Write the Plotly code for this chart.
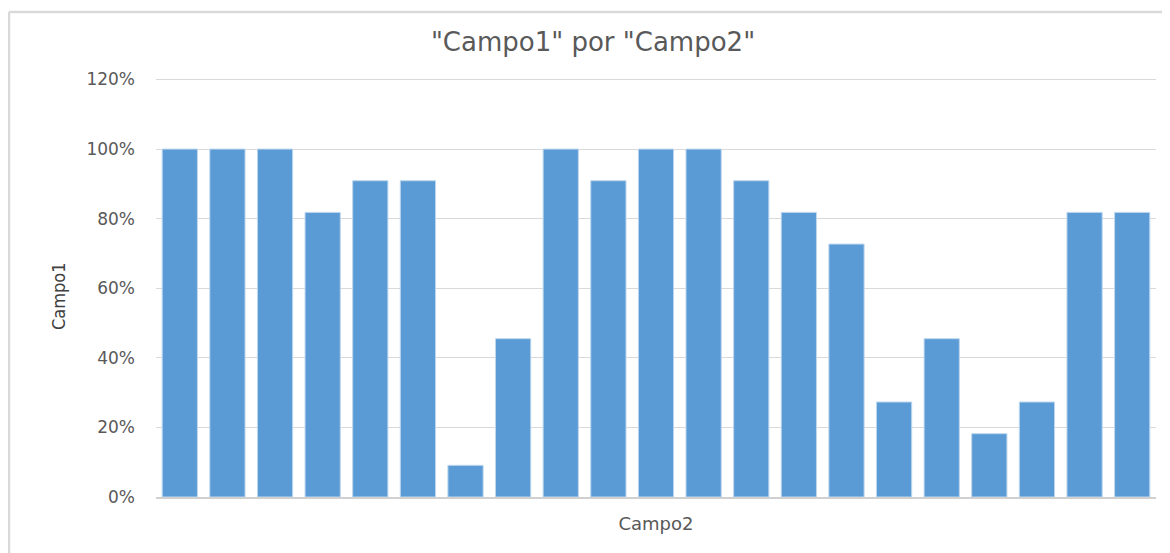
import plotly.graph_objects as go

categories = [str(i) for i in range(1, 22)]
values = [1.0, 1.0, 1.0, 0.818, 0.909, 0.909, 0.091, 0.455, 1.0, 0.909, 1.0,
          1.0, 0.909, 0.818, 0.727, 0.273, 0.455, 0.182, 0.273, 0.818, 0.818]
y_ticks = [0, 0.2, 0.4, 0.6, 0.8, 1.0, 1.2]

# page body has an 8px margin; margins below compensate for it
L, R, T, B = 148, 22, 68, 64
W, H = 1170, 553
plot_w = W - L - R
plot_h = H - T - B

fig = go.Figure(go.Bar(
    x=categories, y=values,
    marker=dict(color="#5B9BD5", line=dict(color="#BDD7EE", width=1)),
))

fig.update_layout(
    width=W, height=H,
    margin=dict(l=L, r=R, t=T, b=B),
    paper_bgcolor="white", plot_bgcolor="white",
    bargap=0.26,
    showlegend=False,
    font=dict(family="DejaVu Sans", color="#595959"),
    title=dict(text='"Campo1" por "Campo2"', x=0.5, xref="container", xanchor="center",
               y=1 - 34 / H, yref="container", yanchor="middle",
               font=dict(family="DejaVu Sans", size=26, color="#595959")),
    xaxis=dict(showticklabels=False, showgrid=False, zeroline=False,
               showline=True, linecolor="#D0D0D0", linewidth=1.5,
               title=dict(text="Campo2", standoff=20,
                          font=dict(family="DejaVu Sans", size=18, color="#595959"))),
    yaxis=dict(range=[0, 1.21], tickvals=y_ticks, tickformat=".0%",
               showgrid=True, gridcolor="#D9D9D9", gridwidth=1, zeroline=False,
               showline=False, ticks="", ticklabelstandoff=20,
               tickfont=dict(family="DejaVu Sans", size=17, color="#595959")),
    annotations=[dict(text="Campo1", textangle=-90,
                      x=(50 - L) / plot_w, xref="paper",
                      y=(H - B - 288) / plot_h, yref="paper",
                      showarrow=False, xanchor="center", yanchor="middle",
                      font=dict(family="DejaVu Sans Condensed", size=18, color="#404040"))],
    shapes=[
        dict(type="line", xref="paper", yref="paper",
             x0=(1 - L) / plot_w, x1=(1 - L) / plot_w,
             y0=(H - B - 4) / plot_h, y1=-0.3,
             line=dict(color="#D9D9D9", width=2.5)),
        dict(type="line", xref="paper", yref="paper",
             x0=(1 - L) / plot_w, x1=1.1,
             y0=(H - B - 4) / plot_h, y1=(H - B - 4) / plot_h,
             line=dict(color="#D9D9D9", width=2.5)),
    ],
)

fig.write_html("out.html")
